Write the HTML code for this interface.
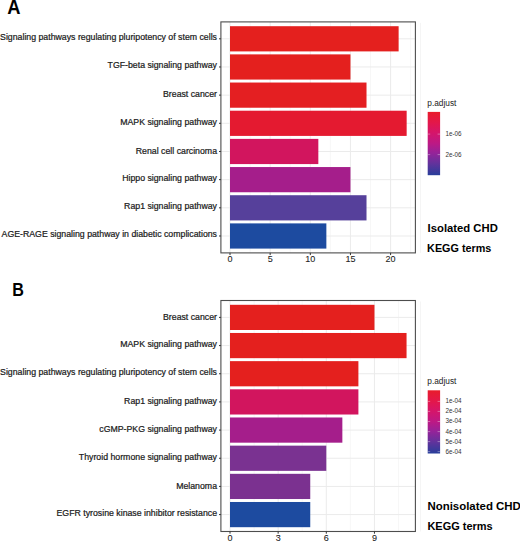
<!DOCTYPE html>
<html><head><meta charset="utf-8"><style>
html,body{margin:0;padding:0;background:#fff;width:520px;height:541px;overflow:hidden}
svg{display:block}
</style></head><body>
<svg width="520" height="541" viewBox="0 0 520 541" font-family='"Liberation Sans", sans-serif'>
<defs><linearGradient id="gA" x1="0" y1="0" x2="0" y2="1">
<stop offset="0" stop-color="#E91C2B"/>
<stop offset="0.17" stop-color="#E3174A"/>
<stop offset="0.33" stop-color="#D5156A"/>
<stop offset="0.5" stop-color="#BC1985"/>
<stop offset="0.65" stop-color="#952399"/>
<stop offset="0.81" stop-color="#64329C"/>
<stop offset="1" stop-color="#283E9A"/>
</linearGradient><linearGradient id="gB" x1="0" y1="0" x2="0" y2="1">
<stop offset="0" stop-color="#E91C2B"/>
<stop offset="0.17" stop-color="#E3174A"/>
<stop offset="0.33" stop-color="#D5156A"/>
<stop offset="0.5" stop-color="#BC1985"/>
<stop offset="0.65" stop-color="#952399"/>
<stop offset="0.81" stop-color="#64329C"/>
<stop offset="1" stop-color="#283E9A"/>
</linearGradient></defs>
<rect width="520" height="541" fill="#fff"/>
<line x1="250.07" y1="21.9" x2="250.07" y2="252.89" stroke="#F2F2F2" stroke-width="0.6"/>
<line x1="290.23" y1="21.9" x2="290.23" y2="252.89" stroke="#F2F2F2" stroke-width="0.6"/>
<line x1="330.38" y1="21.9" x2="330.38" y2="252.89" stroke="#F2F2F2" stroke-width="0.6"/>
<line x1="370.52" y1="21.9" x2="370.52" y2="252.89" stroke="#F2F2F2" stroke-width="0.6"/>
<line x1="410.67" y1="21.9" x2="410.67" y2="252.89" stroke="#F2F2F2" stroke-width="0.6"/>
<line x1="230.00" y1="21.9" x2="230.00" y2="252.89" stroke="#EBEBEB" stroke-width="1"/>
<line x1="270.15" y1="21.9" x2="270.15" y2="252.89" stroke="#EBEBEB" stroke-width="1"/>
<line x1="310.30" y1="21.9" x2="310.30" y2="252.89" stroke="#EBEBEB" stroke-width="1"/>
<line x1="350.45" y1="21.9" x2="350.45" y2="252.89" stroke="#EBEBEB" stroke-width="1"/>
<line x1="390.60" y1="21.9" x2="390.60" y2="252.89" stroke="#EBEBEB" stroke-width="1"/>
<line x1="220.9" y1="38.80" x2="415.4" y2="38.80" stroke="#EBEBEB" stroke-width="1"/>
<line x1="220.9" y1="66.97" x2="415.4" y2="66.97" stroke="#EBEBEB" stroke-width="1"/>
<line x1="220.9" y1="95.14" x2="415.4" y2="95.14" stroke="#EBEBEB" stroke-width="1"/>
<line x1="220.9" y1="123.31" x2="415.4" y2="123.31" stroke="#EBEBEB" stroke-width="1"/>
<line x1="220.9" y1="151.48" x2="415.4" y2="151.48" stroke="#EBEBEB" stroke-width="1"/>
<line x1="220.9" y1="179.65" x2="415.4" y2="179.65" stroke="#EBEBEB" stroke-width="1"/>
<line x1="220.9" y1="207.82" x2="415.4" y2="207.82" stroke="#EBEBEB" stroke-width="1"/>
<line x1="220.9" y1="235.99" x2="415.4" y2="235.99" stroke="#EBEBEB" stroke-width="1"/>
<rect x="230.0" y="26.20" width="168.63" height="25.2" fill="#E4201E"/>
<rect x="230.0" y="54.37" width="120.45" height="25.2" fill="#E4201E"/>
<rect x="230.0" y="82.54" width="136.51" height="25.2" fill="#E41F22"/>
<rect x="230.0" y="110.71" width="176.66" height="25.2" fill="#E41A30"/>
<rect x="230.0" y="138.88" width="88.33" height="25.2" fill="#D2155E"/>
<rect x="230.0" y="167.05" width="120.45" height="25.2" fill="#A51E8B"/>
<rect x="230.0" y="195.22" width="136.51" height="25.2" fill="#56409B"/>
<rect x="230.0" y="223.39" width="96.36" height="25.2" fill="#1D4BA0"/>
<line x1="420.5" y1="22.90" x2="420.5" y2="252.89" stroke="#F5F5F5" stroke-width="1"/>
<rect x="220.9" y="21.9" width="194.49999999999997" height="230.99" fill="none" stroke="#4D4D4D" stroke-width="1.1"/>
<line x1="219.00" y1="38.80" x2="220.9" y2="38.80" stroke="#333" stroke-width="1"/>
<text x="217.0" y="40.10" text-anchor="end" font-size="8.75" fill="#1A1A1A" stroke="#1A1A1A" stroke-width="0.22">Signaling pathways regulating pluripotency of stem cells</text>
<line x1="219.00" y1="66.97" x2="220.9" y2="66.97" stroke="#333" stroke-width="1"/>
<text x="217.0" y="68.27" text-anchor="end" font-size="8.75" fill="#1A1A1A" stroke="#1A1A1A" stroke-width="0.22">TGF-beta signaling pathway</text>
<line x1="219.00" y1="95.14" x2="220.9" y2="95.14" stroke="#333" stroke-width="1"/>
<text x="217.0" y="97.34" text-anchor="end" font-size="8.75" fill="#1A1A1A" stroke="#1A1A1A" stroke-width="0.22">Breast cancer</text>
<line x1="219.00" y1="123.31" x2="220.9" y2="123.31" stroke="#333" stroke-width="1"/>
<text x="217.0" y="124.61" text-anchor="end" font-size="8.75" fill="#1A1A1A" stroke="#1A1A1A" stroke-width="0.22">MAPK signaling pathway</text>
<line x1="219.00" y1="151.48" x2="220.9" y2="151.48" stroke="#333" stroke-width="1"/>
<text x="217.0" y="153.68" text-anchor="end" font-size="8.75" fill="#1A1A1A" stroke="#1A1A1A" stroke-width="0.22">Renal cell carcinoma</text>
<line x1="219.00" y1="179.65" x2="220.9" y2="179.65" stroke="#333" stroke-width="1"/>
<text x="217.0" y="180.95" text-anchor="end" font-size="8.75" fill="#1A1A1A" stroke="#1A1A1A" stroke-width="0.22">Hippo signaling pathway</text>
<line x1="219.00" y1="207.82" x2="220.9" y2="207.82" stroke="#333" stroke-width="1"/>
<text x="217.0" y="209.12" text-anchor="end" font-size="8.75" fill="#1A1A1A" stroke="#1A1A1A" stroke-width="0.22">Rap1 signaling pathway</text>
<line x1="219.00" y1="235.99" x2="220.9" y2="235.99" stroke="#333" stroke-width="1"/>
<text x="217.0" y="237.29" text-anchor="end" font-size="8.75" fill="#1A1A1A" stroke="#1A1A1A" stroke-width="0.22">AGE-RAGE signaling pathway in diabetic complications</text>
<line x1="230.00" y1="252.89" x2="230.00" y2="255.09" stroke="#333" stroke-width="1"/>
<text x="230.00" y="262.29" text-anchor="middle" font-size="9" fill="#222" stroke="#222" stroke-width="0.08">0</text>
<line x1="270.15" y1="252.89" x2="270.15" y2="255.09" stroke="#333" stroke-width="1"/>
<text x="270.15" y="262.29" text-anchor="middle" font-size="9" fill="#222" stroke="#222" stroke-width="0.08">5</text>
<line x1="310.30" y1="252.89" x2="310.30" y2="255.09" stroke="#333" stroke-width="1"/>
<text x="310.30" y="262.29" text-anchor="middle" font-size="9" fill="#222" stroke="#222" stroke-width="0.08">10</text>
<line x1="350.45" y1="252.89" x2="350.45" y2="255.09" stroke="#333" stroke-width="1"/>
<text x="350.45" y="262.29" text-anchor="middle" font-size="9" fill="#222" stroke="#222" stroke-width="0.08">15</text>
<line x1="390.60" y1="252.89" x2="390.60" y2="255.09" stroke="#333" stroke-width="1"/>
<text x="390.60" y="262.29" text-anchor="middle" font-size="9" fill="#222" stroke="#222" stroke-width="0.08">20</text>
<line x1="254.07" y1="300.5" x2="254.07" y2="531.49" stroke="#F2F2F2" stroke-width="0.6"/>
<line x1="302.23" y1="300.5" x2="302.23" y2="531.49" stroke="#F2F2F2" stroke-width="0.6"/>
<line x1="350.38" y1="300.5" x2="350.38" y2="531.49" stroke="#F2F2F2" stroke-width="0.6"/>
<line x1="398.52" y1="300.5" x2="398.52" y2="531.49" stroke="#F2F2F2" stroke-width="0.6"/>
<line x1="230.00" y1="300.5" x2="230.00" y2="531.49" stroke="#EBEBEB" stroke-width="1"/>
<line x1="278.15" y1="300.5" x2="278.15" y2="531.49" stroke="#EBEBEB" stroke-width="1"/>
<line x1="326.30" y1="300.5" x2="326.30" y2="531.49" stroke="#EBEBEB" stroke-width="1"/>
<line x1="374.45" y1="300.5" x2="374.45" y2="531.49" stroke="#EBEBEB" stroke-width="1"/>
<line x1="220.9" y1="317.40" x2="415.4" y2="317.40" stroke="#EBEBEB" stroke-width="1"/>
<line x1="220.9" y1="345.57" x2="415.4" y2="345.57" stroke="#EBEBEB" stroke-width="1"/>
<line x1="220.9" y1="373.74" x2="415.4" y2="373.74" stroke="#EBEBEB" stroke-width="1"/>
<line x1="220.9" y1="401.91" x2="415.4" y2="401.91" stroke="#EBEBEB" stroke-width="1"/>
<line x1="220.9" y1="430.08" x2="415.4" y2="430.08" stroke="#EBEBEB" stroke-width="1"/>
<line x1="220.9" y1="458.25" x2="415.4" y2="458.25" stroke="#EBEBEB" stroke-width="1"/>
<line x1="220.9" y1="486.42" x2="415.4" y2="486.42" stroke="#EBEBEB" stroke-width="1"/>
<line x1="220.9" y1="514.59" x2="415.4" y2="514.59" stroke="#EBEBEB" stroke-width="1"/>
<rect x="230.0" y="304.80" width="144.45" height="25.2" fill="#E4201E"/>
<rect x="230.0" y="332.97" width="176.55" height="25.2" fill="#E4201E"/>
<rect x="230.0" y="361.14" width="128.40" height="25.2" fill="#E4201E"/>
<rect x="230.0" y="389.31" width="128.40" height="25.2" fill="#D2155E"/>
<rect x="230.0" y="417.48" width="112.35" height="25.2" fill="#A51E8B"/>
<rect x="230.0" y="445.65" width="96.30" height="25.2" fill="#7A3291"/>
<rect x="230.0" y="473.82" width="80.25" height="25.2" fill="#7B3190"/>
<rect x="230.0" y="501.99" width="80.25" height="25.2" fill="#1D4BA0"/>
<line x1="420.5" y1="301.50" x2="420.5" y2="531.49" stroke="#F5F5F5" stroke-width="1"/>
<rect x="220.9" y="300.5" width="194.49999999999997" height="230.99" fill="none" stroke="#4D4D4D" stroke-width="1.1"/>
<line x1="219.00" y1="317.40" x2="220.9" y2="317.40" stroke="#333" stroke-width="1"/>
<text x="217.0" y="319.80" text-anchor="end" font-size="8.75" fill="#1A1A1A" stroke="#1A1A1A" stroke-width="0.22">Breast cancer</text>
<line x1="219.00" y1="345.57" x2="220.9" y2="345.57" stroke="#333" stroke-width="1"/>
<text x="217.0" y="347.17" text-anchor="end" font-size="8.75" fill="#1A1A1A" stroke="#1A1A1A" stroke-width="0.22">MAPK signaling pathway</text>
<line x1="219.00" y1="373.74" x2="220.9" y2="373.74" stroke="#333" stroke-width="1"/>
<text x="217.0" y="375.34" text-anchor="end" font-size="8.75" fill="#1A1A1A" stroke="#1A1A1A" stroke-width="0.22">Signaling pathways regulating pluripotency of stem cells</text>
<line x1="219.00" y1="401.91" x2="220.9" y2="401.91" stroke="#333" stroke-width="1"/>
<text x="217.0" y="403.51" text-anchor="end" font-size="8.75" fill="#1A1A1A" stroke="#1A1A1A" stroke-width="0.22">Rap1 signaling pathway</text>
<line x1="219.00" y1="430.08" x2="220.9" y2="430.08" stroke="#333" stroke-width="1"/>
<text x="217.0" y="431.68" text-anchor="end" font-size="8.75" fill="#1A1A1A" stroke="#1A1A1A" stroke-width="0.22">cGMP-PKG signaling pathway</text>
<line x1="219.00" y1="458.25" x2="220.9" y2="458.25" stroke="#333" stroke-width="1"/>
<text x="217.0" y="459.85" text-anchor="end" font-size="8.75" fill="#1A1A1A" stroke="#1A1A1A" stroke-width="0.22">Thyroid hormone signaling pathway</text>
<line x1="219.00" y1="486.42" x2="220.9" y2="486.42" stroke="#333" stroke-width="1"/>
<text x="217.0" y="488.82" text-anchor="end" font-size="8.75" fill="#1A1A1A" stroke="#1A1A1A" stroke-width="0.22">Melanoma</text>
<line x1="219.00" y1="514.59" x2="220.9" y2="514.59" stroke="#333" stroke-width="1"/>
<text x="217.0" y="516.19" text-anchor="end" font-size="8.75" fill="#1A1A1A" stroke="#1A1A1A" stroke-width="0.22">EGFR tyrosine kinase inhibitor resistance</text>
<line x1="230.00" y1="531.49" x2="230.00" y2="533.69" stroke="#333" stroke-width="1"/>
<text x="230.00" y="540.89" text-anchor="middle" font-size="9" fill="#222" stroke="#222" stroke-width="0.08">0</text>
<line x1="278.15" y1="531.49" x2="278.15" y2="533.69" stroke="#333" stroke-width="1"/>
<text x="278.15" y="540.89" text-anchor="middle" font-size="9" fill="#222" stroke="#222" stroke-width="0.08">3</text>
<line x1="326.30" y1="531.49" x2="326.30" y2="533.69" stroke="#333" stroke-width="1"/>
<text x="326.30" y="540.89" text-anchor="middle" font-size="9" fill="#222" stroke="#222" stroke-width="0.08">6</text>
<line x1="374.45" y1="531.49" x2="374.45" y2="533.69" stroke="#333" stroke-width="1"/>
<text x="374.45" y="540.89" text-anchor="middle" font-size="9" fill="#222" stroke="#222" stroke-width="0.08">9</text>
<text x="427.3" y="105.6" font-size="8.3" fill="#222">p.adjust</text>
<rect x="427.7" y="111.9" width="12.4" height="63.30" fill="url(#gA)"/>
<line x1="427.7" y1="134.1" x2="430.2" y2="134.1" stroke="#fff" stroke-opacity="0.45" stroke-width="0.8"/>
<line x1="437.6" y1="134.1" x2="440.1" y2="134.1" stroke="#fff" stroke-opacity="0.45" stroke-width="0.8"/>
<text x="445.4" y="136.00" font-size="6.3" fill="#333">1e-06</text>
<line x1="427.7" y1="154.6" x2="430.2" y2="154.6" stroke="#fff" stroke-opacity="0.45" stroke-width="0.8"/>
<line x1="437.6" y1="154.6" x2="440.1" y2="154.6" stroke="#fff" stroke-opacity="0.45" stroke-width="0.8"/>
<text x="445.4" y="156.50" font-size="6.3" fill="#333">2e-06</text>
<text x="427.3" y="384.1" font-size="8.3" fill="#222">p.adjust</text>
<rect x="427.7" y="390.3" width="12.4" height="63.20" fill="url(#gB)"/>
<line x1="427.7" y1="401.4" x2="430.2" y2="401.4" stroke="#fff" stroke-opacity="0.45" stroke-width="0.8"/>
<line x1="437.6" y1="401.4" x2="440.1" y2="401.4" stroke="#fff" stroke-opacity="0.45" stroke-width="0.8"/>
<text x="445.4" y="403.30" font-size="6.3" fill="#333">1e-04</text>
<line x1="427.7" y1="411.4" x2="430.2" y2="411.4" stroke="#fff" stroke-opacity="0.45" stroke-width="0.8"/>
<line x1="437.6" y1="411.4" x2="440.1" y2="411.4" stroke="#fff" stroke-opacity="0.45" stroke-width="0.8"/>
<text x="445.4" y="413.30" font-size="6.3" fill="#333">2e-04</text>
<line x1="427.7" y1="421.5" x2="430.2" y2="421.5" stroke="#fff" stroke-opacity="0.45" stroke-width="0.8"/>
<line x1="437.6" y1="421.5" x2="440.1" y2="421.5" stroke="#fff" stroke-opacity="0.45" stroke-width="0.8"/>
<text x="445.4" y="423.40" font-size="6.3" fill="#333">3e-04</text>
<line x1="427.7" y1="431.6" x2="430.2" y2="431.6" stroke="#fff" stroke-opacity="0.45" stroke-width="0.8"/>
<line x1="437.6" y1="431.6" x2="440.1" y2="431.6" stroke="#fff" stroke-opacity="0.45" stroke-width="0.8"/>
<text x="445.4" y="433.50" font-size="6.3" fill="#333">4e-04</text>
<line x1="427.7" y1="441.6" x2="430.2" y2="441.6" stroke="#fff" stroke-opacity="0.45" stroke-width="0.8"/>
<line x1="437.6" y1="441.6" x2="440.1" y2="441.6" stroke="#fff" stroke-opacity="0.45" stroke-width="0.8"/>
<text x="445.4" y="443.50" font-size="6.3" fill="#333">5e-04</text>
<line x1="427.7" y1="451.6" x2="430.2" y2="451.6" stroke="#fff" stroke-opacity="0.45" stroke-width="0.8"/>
<line x1="437.6" y1="451.6" x2="440.1" y2="451.6" stroke="#fff" stroke-opacity="0.45" stroke-width="0.8"/>
<text x="445.4" y="453.50" font-size="6.3" fill="#333">6e-04</text>
<text transform="translate(7.2 13.9) scale(0.94 1)" x="0" y="0" font-size="19.5" font-weight="bold" fill="#000">A</text>
<text transform="translate(12.2 296.4) scale(0.85 1)" x="0" y="0" font-size="19" font-weight="bold" fill="#000">B</text>
<text x="427.6" y="231.6" font-size="11.2" font-weight="bold" fill="#000" textLength="70.2" lengthAdjust="spacingAndGlyphs">Isolated CHD</text>
<text x="427.1" y="251.9" font-size="11.2" font-weight="bold" fill="#000" textLength="64.2" lengthAdjust="spacingAndGlyphs">KEGG terms</text>
<text x="427.4" y="510.3" font-size="11.2" font-weight="bold" fill="#000" textLength="93.5" lengthAdjust="spacingAndGlyphs">Nonisolated CHD</text>
<text x="427.4" y="529.6" font-size="11.2" font-weight="bold" fill="#000" textLength="65.3" lengthAdjust="spacingAndGlyphs">KEGG terms</text>
</svg>
</body></html>
